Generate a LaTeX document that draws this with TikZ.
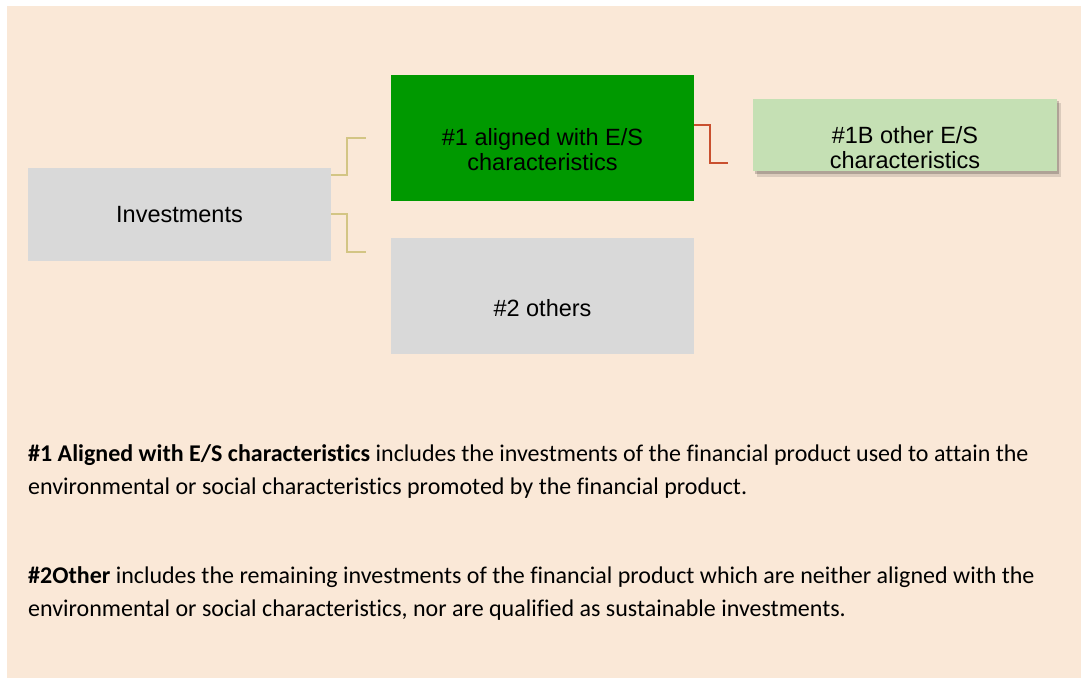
\documentclass[tikz,border=0pt]{standalone}
\usepackage{fontspec}
\setmainfont{Liberation Sans}
\newfontfamily\bodyfont[Ligatures={NoCommon}]{Carlito}
\definecolor{peach}{HTML}{FAE8D7}
\definecolor{boxgray}{HTML}{D9D9D9}
\definecolor{boxgreen}{HTML}{009900}
\definecolor{lightgreen}{HTML}{C5E0B4}
\definecolor{tanline}{HTML}{D3C584}
\definecolor{redline}{HTML}{C9502F}
\begin{document}
\begin{tikzpicture}[x=1pt,y=-1pt,
  box/.style={draw=none,inner sep=0pt,align=center,font=\fontsize{23.5}{25}\selectfont},
  tanconn/.style={draw=tanline,line width=2pt},
  redconn/.style={draw=redline,line width=1.6pt},
  body/.style={anchor=base west,inner sep=0pt,font=\bodyfont\fontsize{24}{28}\selectfont}]
\useasboundingbox (0,0) rectangle (1081,679);
\fill[white] (0,0) rectangle (1081,679);
\fill[peach] (7,6) rectangle (1081,678);
% boxes
\fill[boxgray] (28,168) rectangle (331,261);
\node[box] (inv) at (179.5,214.5) {Investments};
\fill[boxgreen] (391,75) rectangle (694,201);
\node[box] (al) at (542.5,150) {\#1 aligned with E/S\\characteristics};
\fill[boxgray] (391,238) rectangle (694,354);
\node[box] (oth) at (542.5,308) {\#2 others};
\fill[black,opacity=0.12] (757,103) rectangle (1061,177);
\fill[black,opacity=0.2] (755,101) rectangle (1059,174);
\fill[lightgreen] (753,99) rectangle (1057,171);
\node[box] (ob) at (905,148) {\#1B other E/S\\characteristics};
% connectors
\coordinate (invr) at (331,175);
\coordinate (invr2) at (331,214);
\coordinate (alt) at (366,138);
\coordinate (othb) at (366,252);
\draw[tanconn] (invr) -- (347,175) -- (347,138) -- (alt);
\draw[tanconn] (invr2) -- (347,214) -- (347,252) -- (othb);
\coordinate (alr) at (694,125);
\coordinate (obl) at (728,163);
\draw[redconn] (alr) -- (710,125) -- (710,163) -- (obl);
% body text
\node[body] (t1) at (28,461) {\textbf{\#1 Aligned with E/S characteristics} includes the investments of the financial product used to attain the};
\node[body] (t2) at (28,494) {environmental or social characteristics promoted by the financial product.};
\node[body] (t3) at (28,583) {\textbf{\#2Other} includes the remaining investments of the financial product which are neither aligned with the};
\node[body] (t4) at (28,616) {environmental or social characteristics, nor are qualified as sustainable investments.};
\end{tikzpicture}
\end{document}
